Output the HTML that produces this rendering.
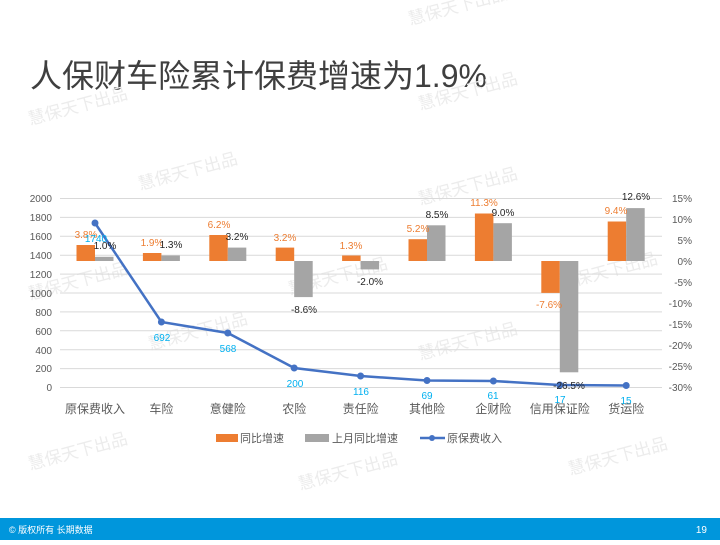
<!DOCTYPE html>
<html><head><meta charset="utf-8"><style>
body{margin:0;width:720px;height:540px;overflow:hidden;background:#fff;font-family:"Liberation Sans","Noto Sans CJK SC",sans-serif;}
</style></head><body>
<svg width="720" height="540" xmlns="http://www.w3.org/2000/svg" font-family="Liberation Sans, Noto Sans CJK SC, sans-serif">
<text x="30" y="87" font-size="32" fill="#3f3f3f">人保财车险累计保费增速为1.9%</text>
<g font-size="17" fill="#ececec">
<text transform="translate(410,25) rotate(-15)">慧保天下出品</text>
<text transform="translate(30,125) rotate(-15)">慧保天下出品</text>
<text transform="translate(420,110) rotate(-15)">慧保天下出品</text>
<text transform="translate(140,190) rotate(-15)">慧保天下出品</text>
<text transform="translate(420,205) rotate(-15)">慧保天下出品</text>
<text transform="translate(30,300) rotate(-15)">慧保天下出品</text>
<text transform="translate(290,295) rotate(-15)">慧保天下出品</text>
<text transform="translate(560,290) rotate(-15)">慧保天下出品</text>
<text transform="translate(150,350) rotate(-15)">慧保天下出品</text>
<text transform="translate(420,360) rotate(-15)">慧保天下出品</text>
<text transform="translate(30,470) rotate(-15)">慧保天下出品</text>
<text transform="translate(300,490) rotate(-15)">慧保天下出品</text>
<text transform="translate(570,475) rotate(-15)">慧保天下出品</text>
</g>
<g stroke="#d9d9d9" stroke-width="1">
<line x1="60" x2="662" y1="198.5" y2="198.5"/><line x1="60" x2="662" y1="217.4" y2="217.4"/><line x1="60" x2="662" y1="236.3" y2="236.3"/><line x1="60" x2="662" y1="255.2" y2="255.2"/><line x1="60" x2="662" y1="274.1" y2="274.1"/><line x1="60" x2="662" y1="293" y2="293"/><line x1="60" x2="662" y1="311.9" y2="311.9"/><line x1="60" x2="662" y1="330.8" y2="330.8"/><line x1="60" x2="662" y1="349.7" y2="349.7"/><line x1="60" x2="662" y1="368.6" y2="368.6"/><line x1="60" x2="662" y1="387.5" y2="387.5"/>
</g>
<g font-size="10" fill="#595959" text-anchor="end">
<text x="52" y="202">2000</text><text x="52" y="221">1800</text><text x="52" y="240">1600</text><text x="52" y="259">1400</text><text x="52" y="278">1200</text><text x="52" y="297">1000</text><text x="52" y="316">800</text><text x="52" y="335">600</text><text x="52" y="354">400</text><text x="52" y="372">200</text><text x="52" y="391">0</text>
</g>
<g font-size="10" fill="#595959" text-anchor="end">
<text x="692" y="202">15%</text><text x="692" y="223">10%</text><text x="692" y="244">5%</text><text x="692" y="265">0%</text><text x="692" y="286">-5%</text><text x="692" y="307">-10%</text><text x="692" y="328">-15%</text><text x="692" y="349">-20%</text><text x="692" y="370">-25%</text><text x="692" y="391">-30%</text>
</g>
<g fill="#ed7d31">
<rect x="76.5" y="245" width="18.5" height="16"/><rect x="142.9" y="253" width="18.5" height="8"/><rect x="209.3" y="235" width="18.5" height="26"/><rect x="275.7" y="247.6" width="18.5" height="13.4"/><rect x="342.1" y="255.5" width="18.5" height="5.5"/><rect x="408.5" y="239.2" width="18.5" height="21.8"/><rect x="474.9" y="213.5" width="18.5" height="47.5"/><rect x="541.3" y="261" width="18.5" height="31.9"/><rect x="607.7" y="221.5" width="18.5" height="39.5"/>
</g>
<g fill="#a5a5a5">
<rect x="95" y="256.8" width="18.5" height="4.2"/><rect x="161.4" y="255.5" width="18.5" height="5.5"/><rect x="227.8" y="247.6" width="18.5" height="13.4"/><rect x="294.2" y="261" width="18.5" height="36.1"/><rect x="360.6" y="261" width="18.5" height="8.4"/><rect x="427" y="225.3" width="18.5" height="35.7"/><rect x="493.4" y="223.2" width="18.5" height="37.8"/><rect x="559.8" y="261" width="18.5" height="111.3"/><rect x="626.2" y="208.1" width="18.5" height="52.9"/>
</g>
<polyline fill="none" stroke="#4472c4" stroke-width="2.5" points="95,223 161.4,322 227.8,333 294.2,368 360.6,376 427,380.5 493.4,381 559.8,385 626.2,385.5"/>
<g fill="#4472c4">
<circle cx="95" cy="223" r="3.5"/><circle cx="161.4" cy="322" r="3.5"/><circle cx="227.8" cy="333" r="3.5"/><circle cx="294.2" cy="368" r="3.5"/><circle cx="360.6" cy="376" r="3.5"/><circle cx="427" cy="380.5" r="3.5"/><circle cx="493.4" cy="381" r="3.5"/><circle cx="559.8" cy="385" r="3.5"/><circle cx="626.2" cy="385.5" r="3.5"/>
</g>
<g font-size="10" fill="#ed7d31" text-anchor="middle">
<text x="86" y="238">3.8%</text><text x="152" y="246">1.9%</text><text x="219" y="228">6.2%</text><text x="285" y="241">3.2%</text><text x="351" y="249">1.3%</text><text x="418" y="232">5.2%</text><text x="484" y="206">11.3%</text><text x="549" y="308">-7.6%</text><text x="616" y="214">9.4%</text>
</g>
<g font-size="10" fill="#262626" text-anchor="middle">
<text x="105" y="249">1.0%</text><text x="171" y="248">1.3%</text><text x="237" y="240">3.2%</text><text x="304" y="313">-8.6%</text><text x="370" y="285">-2.0%</text><text x="437" y="218">8.5%</text><text x="503" y="216">9.0%</text><text x="569" y="389">-26.5%</text><text x="636" y="200">12.6%</text>
</g>
<g font-size="10" fill="#00b0f0" text-anchor="middle">
<text x="96" y="242">1740</text><text x="162" y="341">692</text><text x="228" y="352">568</text><text x="295" y="387">200</text><text x="361" y="395">116</text><text x="427" y="399">69</text><text x="493" y="399">61</text><text x="560" y="403">17</text><text x="626" y="404">15</text>
</g>
<g font-size="12" fill="#595959" text-anchor="middle">
<text x="95" y="413">原保费收入</text><text x="161.4" y="413">车险</text><text x="227.8" y="413">意健险</text><text x="294.2" y="413">农险</text><text x="360.6" y="413">责任险</text><text x="427" y="413">其他险</text><text x="493.4" y="413">企财险</text><text x="559.8" y="413">信用保证险</text><text x="626.2" y="413">货运险</text>
</g>
<rect x="216" y="434" width="22" height="8" fill="#ed7d31"/><text x="240" y="442" font-size="11" fill="#595959">同比增速</text>
<rect x="305" y="434" width="24" height="8" fill="#a5a5a5"/><text x="332" y="442" font-size="11" fill="#595959">上月同比增速</text>
<line x1="420" x2="445" y1="438" y2="438" stroke="#4472c4" stroke-width="2.5"/><circle cx="432" cy="438" r="3" fill="#4472c4"/><text x="447" y="442" font-size="11" fill="#595959">原保费收入</text>
<rect x="0" y="518" width="720" height="22" fill="#0096dc"/>
<text x="9" y="533" font-size="9" fill="#fff">© 版权所有 长期数据</text>
<text x="707" y="533" font-size="10" fill="#fff" text-anchor="end">19</text>
</svg>
</body></html>
